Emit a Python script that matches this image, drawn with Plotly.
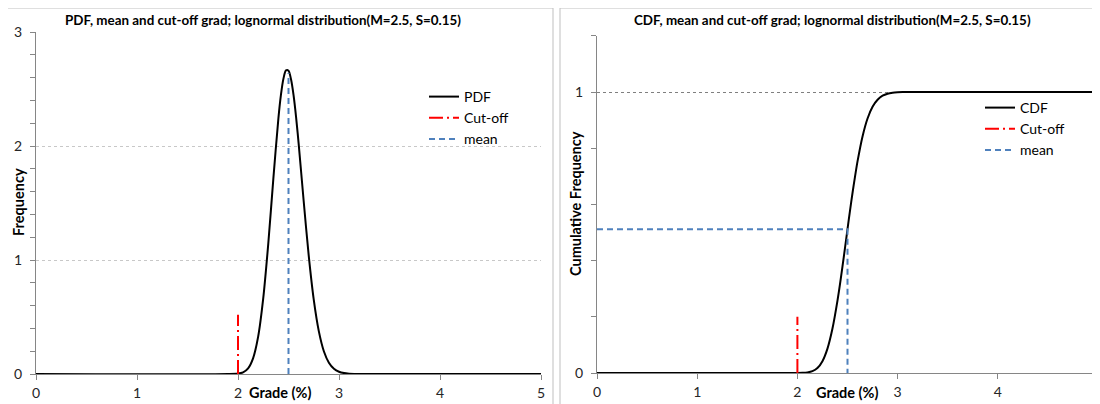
import plotly.graph_objects as go

# ---- data ----
grade = [0.0, 1.9, 2.0, 2.05, 2.1, 2.15, 2.2, 2.25, 2.3, 2.35, 2.4, 2.425, 2.45, 2.475, 2.5,
         2.525, 2.55, 2.575, 2.6, 2.65, 2.7, 2.75, 2.8, 2.85, 2.9, 2.95, 3.0, 3.05, 3.1, 3.15, 3.2, 5.0]
pdf = [0.0, 0.0, 0.004, 0.015, 0.05, 0.14, 0.33, 0.665, 1.146, 1.714, 2.243, 2.448, 2.591, 2.663, 2.661,
       2.585, 2.446, 2.254, 2.025, 1.52, 1.04, 0.652, 0.376, 0.2, 0.099, 0.046, 0.02, 0.008, 0.003, 0.001, 0.0004, 0.0]
cdf = [0.0, 0.0, 0.0001, 0.0005, 0.002, 0.0065, 0.0178, 0.0421, 0.0868, 0.1582, 0.2576, 0.316, 0.3795, 0.445, 0.512,
       0.578, 0.6406, 0.699, 0.753, 0.8418, 0.9056, 0.9474, 0.9726, 0.9867, 0.9939, 0.9974, 0.9989, 0.9996, 0.9999, 1.0, 1.0, 1.0]

cutoff_grade = 2.0
mean_grade = 2.5
pdf_cutoff_height = 0.52
pdf_mean_height = 2.64
cdf_cutoff_height = 0.2
cdf_at_mean = 0.512

x_ticks = [0, 1, 2, 3, 4, 5]

title_pdf = "PDF, mean and cut-off grad; lognormal distribution(M=2.5, S=0.15)"
title_cdf = "CDF, mean and cut-off grad; lognormal distribution(M=2.5, S=0.15)"

FONT = "Lato"
W, H = 1100, 404
OFF = 8  # page body margin of the browser
def px(x): return (x - OFF) / W
def py(y): return 1 - (y - OFF) / H

BLACK = "#000000"
RED = "#FF0000"
BLUE = "#4F81BD"
AXIS = "#868686"
DASH = "6px,4px"
DASHDOT = "14px,4px,2px,4px"

fig = go.Figure()

# Left chart (PDF)
fig.add_trace(go.Scatter(x=grade, y=pdf, mode="lines", name="PDF",
                         line=dict(color=BLACK, width=2, shape="spline", smoothing=0.8),
                         xaxis="x", yaxis="y", legend="legend", legendgroup="a"))
fig.add_trace(go.Scatter(x=[cutoff_grade, cutoff_grade], y=[0, pdf_cutoff_height], mode="lines",
                         name="Cut-off", line=dict(color=RED, width=2, dash=DASHDOT),
                         xaxis="x", yaxis="y", legend="legend", legendgroup="b"))
fig.add_trace(go.Scatter(x=[mean_grade, mean_grade], y=[0, pdf_mean_height], mode="lines",
                         name="mean", line=dict(color=BLUE, width=2, dash=DASH),
                         xaxis="x", yaxis="y", legend="legend", legendgroup="c"))

# Right chart (CDF)
fig.add_trace(go.Scatter(x=grade, y=cdf, mode="lines", name="CDF",
                         line=dict(color=BLACK, width=2, shape="spline", smoothing=0.8),
                         xaxis="x2", yaxis="y2", legend="legend2", legendgroup="d"))
fig.add_trace(go.Scatter(x=[cutoff_grade, cutoff_grade], y=[0, cdf_cutoff_height], mode="lines",
                         name="Cut-off", line=dict(color=RED, width=2, dash=DASHDOT),
                         xaxis="x2", yaxis="y2", legend="legend2", legendgroup="e"))
fig.add_trace(go.Scatter(x=[0, mean_grade, mean_grade], y=[cdf_at_mean, cdf_at_mean, 0], mode="lines",
                         name="mean", line=dict(color=BLUE, width=2, dash=DASH),
                         xaxis="x2", yaxis="y2", legend="legend2", legendgroup="f"))

tickfont = dict(family=FONT, size=14, color="#262626")

def xaxis(domain, anchor):
    return dict(domain=domain, anchor=anchor, range=[0, 5], tickvals=x_ticks, automargin=False,
                showline=True, linecolor=AXIS, linewidth=1, ticks="outside", ticklen=5,
                tickcolor=AXIS, showgrid=False, zeroline=False, tickfont=tickfont,
                ticklabelstandoff=1)

def yaxis(domain, anchor, rng, gridcolor):
    return dict(domain=domain, anchor=anchor, range=rng, tick0=0, dtick=1, automargin=False,
                showline=True, linecolor=AXIS, linewidth=1, ticks="outside", ticklen=5,
                tickcolor=AXIS, showgrid=True, gridcolor=gridcolor, griddash="dot",
                gridwidth=1, zeroline=False, tickfont=tickfont, ticklabelstandoff=5,
                minor=dict(dtick=0.2, tick0=0, ticks="outside", ticklen=5, tickcolor=AXIS,
                           showgrid=False))

legend_common = dict(bgcolor="rgba(0,0,0,0)", font=dict(family=FONT, size=14, color="#000"),
                     xanchor="left", yanchor="top", traceorder="grouped", itemwidth=30)

def ann(text, x, y, size, angle=0):
    return dict(text=text, x=px(x), y=py(y), xref="paper", yref="paper", xanchor="center",
                yanchor="middle", textangle=angle, showarrow=False,
                font=dict(family=FONT, size=size, color="#000"))

fig.update_layout(
    width=W, height=H, margin=dict(l=0, r=0, t=0, b=0, autoexpand=False),
    paper_bgcolor="white", plot_bgcolor="white",
    xaxis=xaxis([px(36), px(541)], "y"),
    yaxis=yaxis([py(374), py(32)], "x", [0, 3], "#c8c8c8"),
    xaxis2=xaxis([px(597), px(1098)], "y2"),
    yaxis2=yaxis([py(373), py(35.8)], "x2", [0, 1.2], "#7f7f7f"),
    legend=dict(x=px(424), y=py(81), tracegroupgap=0, **legend_common),
    legend2=dict(x=px(980), y=py(92), tracegroupgap=0, **legend_common),
    shapes=[
        dict(type="rect", xref="paper", yref="paper", x0=px(5), x1=px(553), y0=-0.2, y1=py(8),
             line=dict(color="#bfbfbf", width=1), layer="below"),
        dict(type="rect", xref="paper", yref="paper", x0=px(560), x1=1.2, y0=-0.2, y1=py(8),
             line=dict(color="#bfbfbf", width=1), layer="below"),
    ],
    annotations=[
        ann("<b>" + title_pdf + "</b>", 263, 20, 13.4),
        ann("<b>" + title_cdf + "</b>", 832, 20, 13.4),
        ann("<b>Grade (%)</b>", 280, 392, 14.5),
        ann("<b>Grade (%)</b>", 847, 392, 14.5),
        ann("<b>Frequency</b>", 18, 202, 14.5, -90),
        ann("<b>Cumulative Frequency</b>", 575, 204, 14.5, -90),
    ],
)

fig.write_html("out.html")
